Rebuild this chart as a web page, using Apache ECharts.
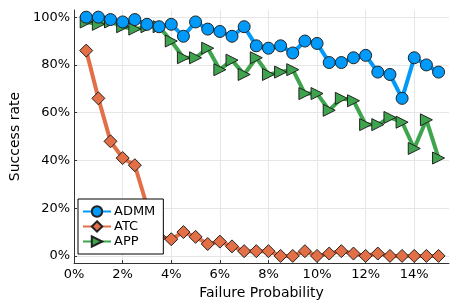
<!DOCTYPE html>
<html>
<head>
<meta charset="utf-8">
<script src="https://cdn.jsdelivr.net/npm/echarts@6/dist/echarts.min.js"></script>
<style>html,body{margin:0;padding:0;background:#fff}#c{width:457px;height:305px}</style>
</head>
<body>
<div id="c"></div>
<script>
const failureProb = [0.5,1,1.5,2,2.5,3,3.5,4,4.5,5,5.5,6,6.5,7,7.5,8,8.5,9,9.5,10,10.5,11,11.5,12,12.5,13,13.5,14,14.5,15];
const admm = [100,100,99,98,99,97,96,97,92,98,95,94,92,96,88,87,88,85,90,89,81,81,83,84,77,76,66,83,80,77];
const atc  = [86,66,48,41,38,21,8,7,10,8,5,6,4,2,2,2,0,0,2,0,1,2,1,0,1,0,0,0,0,0];
const app  = [98,97,98,96,95,96,96,90,83,83,87,78,82,76,83,76,77,78,68,68,61,66,65,55,55,58,56,45,57,41];
const xTicks = [0,2,4,6,8,10,12,14];
const yTicks = [0,20,40,60,80,100];

const font = 'DejaVu Sans';
function pairs(ys){ return failureProb.map((x,i)=>[x, ys[i]]); }

const chart = echarts.init(document.getElementById('c'), null, {renderer:'canvas'});
chart.setOption({
  animation: false,
  backgroundColor: '#fff',
  grid: {left: 64, right: 8, top: 10, bottom: 38, containLabel: false},
  xAxis: {
    type: 'value', min: 0, max: 15.43,
    name: 'Failure Probability', nameLocation: 'middle', nameGap: 22,
    nameTextStyle: {fontFamily: font, fontSize: 14, color: '#000'},
    axisLine: {show: true, onZero: false, lineStyle: {color: '#333', width: 1}},
    axisTick: {show: true, inside: true, length: 3, customValues: xTicks, lineStyle: {color: '#333'}},
    axisLabel: {customValues: xTicks, formatter: v => v + '%', fontFamily: font, fontSize: 13, color: '#000', margin: 5},
    splitLine: {show: true, lineStyle: {color: '#e6e6e6', width: 1}}
  },
  yAxis: {
    type: 'value', min: -3, max: 103,
    name: 'Success rate', nameLocation: 'middle', nameGap: 38,
    nameTextStyle: {fontFamily: font, fontSize: 14, color: '#000'},
    axisLine: {show: true, onZero: false, lineStyle: {color: '#333', width: 1}},
    axisTick: {show: true, inside: true, length: 3, customValues: yTicks, lineStyle: {color: '#333'}},
    axisLabel: {customValues: yTicks, formatter: v => v + '%', fontFamily: font, fontSize: 13, color: '#000', margin: 4},
    splitLine: {show: true, lineStyle: {color: '#e6e6e6', width: 1}}
  },
  legend: {
    left: 78, top: 199, orient: 'vertical',
    backgroundColor: '#fff', borderColor: '#000', borderWidth: 1, borderRadius: 0,
    padding: [6, 8, 6, 4], itemGap: 2, itemWidth: 28, itemHeight: 13,
    textStyle: {fontFamily: font, fontSize: 13, color: '#000', padding: [0,0,0,-2]},
    data: ['ADMM','ATC','APP']
  },
  series: [
    {name: 'ADMM', type: 'line', data: pairs(admm), symbol: 'circle', symbolSize: 12, z: 4,
     lineStyle: {color: '#009AFA', width: 4}, itemStyle: {color: '#009AFA', borderColor: '#222', borderWidth: 1}},
    {name: 'ATC', type: 'line', data: pairs(atc), symbol: 'diamond', symbolSize: 13, z: 3,
     lineStyle: {color: '#E26F46', width: 4}, itemStyle: {color: '#E26F46', borderColor: '#222', borderWidth: 1}},
    {name: 'APP', type: 'line', data: pairs(app), symbol: 'triangle', symbolSize: 12, symbolRotate: -90, z: 2,
     lineStyle: {color: '#3EA44E', width: 4}, itemStyle: {color: '#3EA44E', borderColor: '#222', borderWidth: 1}}
  ]
});
</script>
</body>
</html>
